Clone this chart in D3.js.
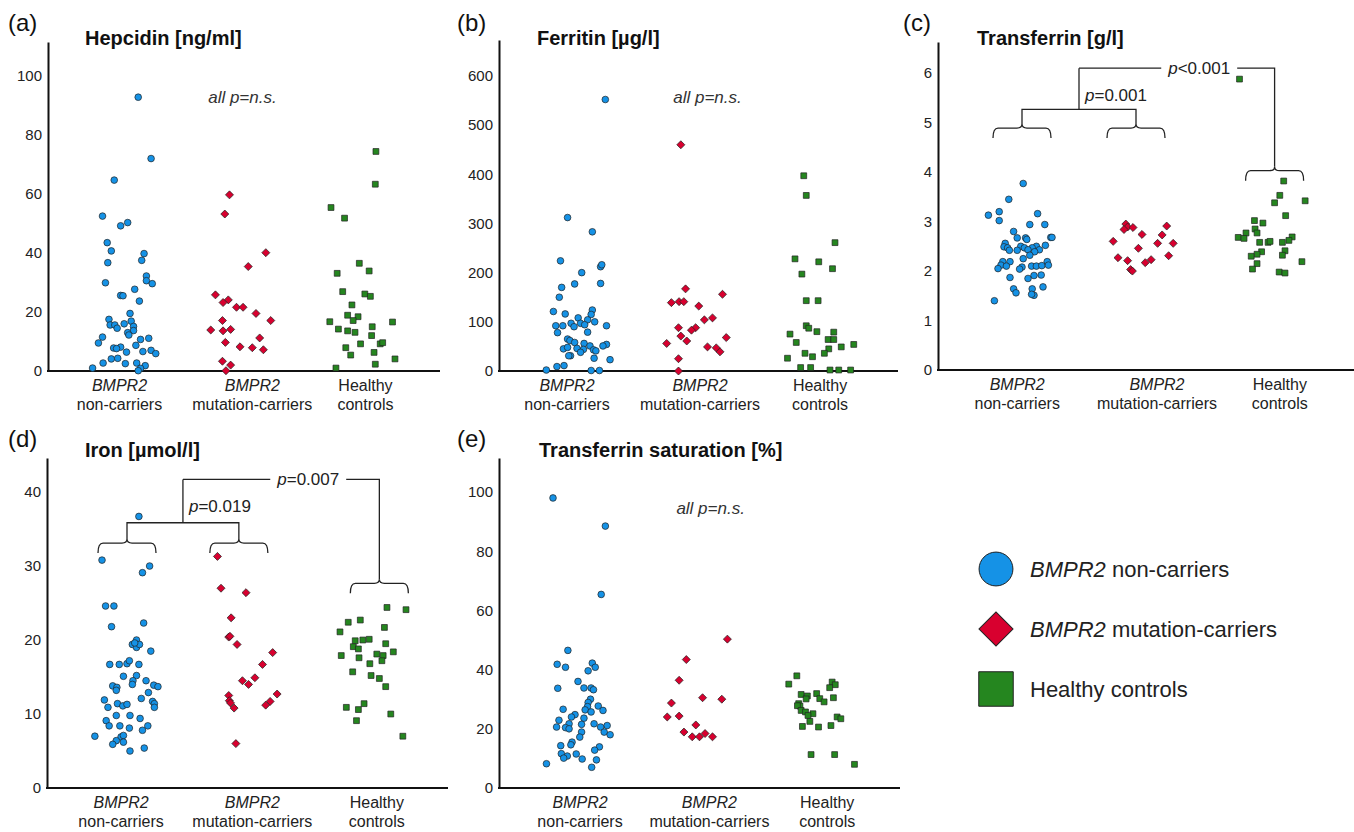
<!DOCTYPE html>
<html>
<head>
<meta charset="utf-8">
<script src="https://cdn.jsdelivr.net/npm/d3@7"></script>
<style>
  body { margin: 0; background: #fff; }
  svg { display: block; font-family: "Liberation Sans", Arial, sans-serif; }
</style>
</head>
<body>
<svg id="chart" width="1354" height="832"></svg>
<script>
// group names, colours and labels
const groupLabels = [['BMPR2', 'non-carriers'], ['BMPR2', 'mutation-carriers'], ['Healthy', 'controls']];
const legendLabels = [['BMPR2', ' non-carriers'], ['BMPR2', ' mutation-carriers'], ['', 'Healthy controls']];
const groupColors = ['#1592e6', '#d8002f', '#25861f'];

// tick labels
const hepcidinTicks = [0, 20, 40, 60, 80, 100];
const ferritinTicks = [0, 100, 200, 300, 400, 500, 600];
const transferrinTicks = [0, 1, 2, 3, 4, 5, 6];
const ironTicks = [0, 10, 20, 30, 40];
const saturationTicks = [0, 20, 40, 60, 80, 100];

// points: [jitter offset (in category units), value]
const hepcidinNC = [[0.13,92.8],[0.24,72.0],[-0.075,64.7],[-0.175,52.5],[0.04,50.3],[-0.02,49.2],[-0.135,43.5],[-0.1,40.7],[0.18,39.8],[0.16,37.5],[-0.13,36.7],[0.2,32.2],[0.2,30.6],[0.25,29.6],[-0.15,29.9],[0.1,27.7],[-0.02,25.6],[0,25.5],[0.14,23.7],[0.06,19.5],[-0.12,17.5],[0.07,16.9],[-0.11,15.6],[-0.07,15.6],[0.01,16.0],[0.09,15.1],[-0.05,14.5],[0.09,13.7],[0.04,13.0],[0.05,12.2],[-0.175,11.5],[0.22,11.1],[0.15,10.7],[-0.21,9.5],[0.11,8.7],[-0.08,7.8],[-0.02,8.1],[-0.055,7.6],[0.24,7.0],[0.03,6.4],[0.17,6.6],[0.28,5.9],[-0.1,4.1],[-0.045,4.3],[-0.17,2.7],[0.02,2.5],[0.117,2.7],[0.19,1.8],[-0.26,1.0],[0.15,0.9],[0.13,0.1]];
const hepcidinMut = [[-0.09,59.7],[-0.13,53.2],[0.21,40.1],[0.067,35.4],[-0.21,25.8],[-0.1,24.1],[-0.145,23.2],[-0.03,21.6],[0.025,21.6],[0.13,19.5],[0.25,17.1],[-0.15,17.1],[-0.25,13.9],[-0.145,13.6],[-0.08,14.1],[0.16,11.2],[-0.125,9.7],[0,8.2],[0.1,7.9],[0.19,7.2],[-0.15,3.3],[-0.08,2.0],[-0.12,0.1]];
const hepcidinHC = [[0.105,74.4],[0.1,63.3],[-0.26,55.4],[-0.15,51.8],[-0.03,36.5],[-0.21,33.1],[0.05,33.9],[-0.165,26.9],[0.015,26.1],[0.06,25.3],[-0.09,22.4],[-0.125,18.9],[-0.04,18.4],[-0.08,17.1],[-0.27,16.7],[0.24,16.6],[-0.2,14.2],[-0.125,13.6],[-0.065,13.1],[0.075,15.0],[0.07,12.0],[-0.02,9.2],[0.14,9.2],[0.16,9.6],[-0.14,7.9],[-0.1,5.4],[0.09,6.3],[0.26,4.1],[0.1,2.3],[-0.22,1.0]];

const ferritinNC = [[0.24,552],[-0.08,312],[0.13,283],[-0.14,224],[0.2,212],[0.21,216],[0.04,200],[-0.02,177],[0.2,178],[-0.13,170],[-0.15,150],[-0.2,121],[0.13,124],[0.12,115],[-0.1,116],[0.01,108],[0.09,104],[-0.05,97],[0.15,100],[0.25,92],[-0.18,92],[-0.12,92],[-0.025,90],[0.03,97],[0.065,94],[-0.165,78],[0.09,79],[-0.08,65],[-0.06,62],[-0.02,58],[0.06,56],[0.25,54],[0.22,51],[0.11,51],[-0.115,45],[-0.08,48],[0,46],[0.055,44],[0.03,38],[0.14,43],[0.16,41],[-0.055,31],[-0.07,31],[0.145,26],[0.28,23],[-0.11,11],[-0.17,9],[-0.26,2],[0.12,1],[0.19,1]];
const ferritinMut = [[-0.12,460],[-0.08,167],[0.22,156],[-0.2,139],[-0.135,141],[-0.095,141],[0.03,132],[0.14,108],[0.075,104],[-0.14,88],[0.005,88],[-0.03,83],[-0.12,71],[0.25,68],[-0.07,61],[-0.24,56],[0.1,49],[0.17,47],[0.2,39],[-0.14,25],[-0.14,0]];
const ferritinHC = [[-0.13,397],[-0.11,357],[0.12,261],[-0.2,228],[-0.01,222],[0.1,208],[-0.145,197],[-0.11,143],[-0.015,143],[-0.11,92],[-0.09,87],[-0.025,80],[0.11,79],[-0.24,75],[0.065,64],[0.11,64],[-0.19,58],[0.27,54],[0.17,49],[0.07,45],[-0.12,36],[0.035,36],[-0.06,29],[-0.26,26],[-0.155,7],[-0.075,7],[0.08,2],[0.15,2],[0.245,2]];

const transferrinNC = [[0.01,3.77],[-0.11,3.45],[-0.28,3.13],[-0.19,3.2],[-0.19,3.02],[0.13,3.16],[0.065,2.94],[0.19,2.94],[-0.07,2.8],[0.24,2.68],[0.25,2.68],[-0.04,2.67],[0.03,2.67],[0.04,2.64],[-0.14,2.56],[0.195,2.52],[-0.15,2.49],[-0.01,2.5],[0.12,2.5],[-0.12,2.47],[0.02,2.47],[0.085,2.47],[-0.105,2.42],[-0.04,2.42],[0.05,2.43],[0.145,2.43],[0.105,2.39],[0.01,2.25],[0.065,2.32],[-0.16,2.19],[-0.1,2.19],[0.21,2.19],[-0.175,2.12],[-0.13,2.1],[0,2.08],[-0.02,2.04],[0.08,2.1],[0.12,2.1],[0.165,2.11],[0.22,2.12],[-0.2,2.05],[0.1,1.91],[0.16,1.92],[-0.1,1.87],[0.05,1.85],[0.175,1.68],[-0.07,1.64],[-0.05,1.56],[0.085,1.64],[0.1,1.51],[0.08,1.53],[-0.23,1.4]];
const transferrinMut = [[-0.135,2.95],[-0.12,2.89],[-0.15,2.84],[-0.075,2.88],[0.19,2.91],[0,2.74],[0.155,2.73],[-0.24,2.6],[0.12,2.56],[0.24,2.56],[-0.03,2.46],[-0.2,2.27],[0.205,2.31],[-0.12,2.21],[0.07,2.23],[0.025,2.17],[-0.095,2.03],[-0.08,2.0]];
const transferrinHC = [[-0.25,5.88],[0.09,3.82],[0.06,3.53],[0.02,3.38],[0.255,3.42],[0.105,3.12],[-0.135,3.02],[-0.07,2.97],[-0.13,2.85],[-0.115,2.77],[-0.2,2.77],[-0.26,2.68],[-0.215,2.66],[0.155,2.69],[0.13,2.62],[-0.095,2.58],[-0.03,2.58],[-0.015,2.6],[0.08,2.58],[-0.08,2.39],[-0.115,2.34],[-0.16,2.3],[0.1,2.41],[0.08,2.32],[-0.115,2.15],[-0.15,2.04],[0.23,2.19],[0.055,1.98],[0.1,1.96]];

const ironNC = [[0.1,36.7],[-0.21,30.8],[0.19,30.0],[0.13,29.1],[-0.18,24.6],[-0.11,24.6],[-0.13,21.8],[0.14,22.3],[0.08,20.0],[0.045,19.4],[0.08,19.0],[0.105,19.4],[0.065,19.6],[0.2,18.5],[-0.145,16.7],[-0.065,16.7],[0,16.8],[0.02,17.2],[0.1,16.7],[-0.03,15.1],[0.08,15.2],[0.05,14.5],[0.045,14.0],[0.16,14.5],[-0.12,13.8],[-0.085,13.6],[-0.09,13.2],[0.225,13.9],[0.26,13.7],[0.18,12.9],[-0.19,11.9],[0.12,12.1],[0.215,11.7],[0.23,11.4],[-0.08,11.4],[-0.035,11.1],[0,11.3],[-0.16,10.9],[0.23,10.9],[-0.09,9.8],[0.025,9.8],[0.11,9.4],[-0.175,9.1],[-0.15,8.4],[-0.06,8.4],[0.175,8.4],[0.02,8.1],[0.13,7.8],[-0.27,7.0],[-0.05,6.9],[-0.03,7.1],[-0.09,6.4],[-0.12,5.9],[-0.03,6.2],[0.145,5.4],[0.025,5.0]];
const ironMut = [[-0.24,31.3],[-0.21,27.0],[0,26.4],[-0.125,23.0],[-0.145,20.4],[-0.135,20.5],[-0.075,19.4],[0.21,18.3],[0.13,16.7],[-0.03,14.5],[0.07,14.9],[0.02,14.0],[0.245,12.7],[-0.145,12.5],[-0.14,11.8],[-0.13,11.5],[0.19,11.7],[0.155,11.2],[-0.1,10.8],[-0.085,6.0]];
const ironHC = [[0.11,24.4],[0.26,24.1],[-0.195,22.4],[-0.1,22.7],[0.09,21.7],[-0.26,21.1],[-0.14,19.9],[-0.08,20.0],[-0.03,20.1],[0.1,19.5],[-0.155,19.1],[-0.115,18.8],[0.16,18.4],[-0.25,17.9],[0.03,18.1],[0.08,17.9],[0.07,17.2],[-0.11,17.6],[-0.025,16.8],[-0.16,15.7],[-0.015,15.2],[0.05,14.8],[0.1,13.7],[-0.21,10.9],[-0.07,11.4],[-0.115,10.6],[0.14,10.0],[-0.13,9.1],[0.235,7.0]];

const saturationNC = [[-0.21,98.0],[0.23,88.5],[0.195,65.4],[-0.085,46.5],[-0.175,41.8],[-0.105,40.8],[0.12,42.2],[0.145,40.8],[0.085,39.6],[0,36.0],[-0.17,33.7],[0.05,33.8],[0.11,33.8],[0.13,33.2],[0.105,30.0],[0.085,28.9],[0.17,27.7],[0.08,27.5],[-0.125,26.6],[0.06,26.4],[0.11,25.7],[0.21,26.2],[-0.025,24.8],[-0.055,24.0],[0.05,23.6],[-0.16,22.9],[0.135,21.7],[-0.075,21.7],[0.03,21.5],[-0.18,20.6],[-0.105,20.4],[0.245,21.1],[0.19,20.6],[-0.075,20.0],[0.03,18.9],[0.22,18.9],[0.27,18.0],[0.015,17.2],[-0.05,15.5],[-0.06,14.6],[-0.145,14.3],[0.18,13.9],[0.14,12.8],[-0.14,11.6],[-0.015,11.5],[-0.09,10.8],[-0.12,10.1],[0.035,9.8],[0.155,9.5],[-0.265,8.2],[0.115,7.0]];
const saturationMut = [[0.245,50.3],[-0.09,43.4],[-0.15,36.4],[-0.215,28.7],[0.045,30.5],[0.2,30.0],[-0.25,24.0],[-0.15,24.3],[-0.01,21.3],[-0.11,18.9],[-0.04,17.3],[0.02,17.3],[0.065,18.4],[0.125,17.3]];
const saturationHC = [[-0.195,37.9],[-0.26,35.1],[0.09,35.8],[0.115,34.9],[0.07,33.9],[-0.16,31.6],[-0.11,31.1],[-0.035,31.9],[0.1,30.5],[-0.12,30.1],[-0.01,30.2],[0.025,29.1],[-0.18,28.5],[-0.17,27.7],[-0.19,27.8],[-0.16,26.2],[-0.125,25.7],[-0.065,25.1],[-0.105,24.5],[0.13,24.0],[0.16,23.4],[-0.09,22.5],[-0.15,20.8],[-0.02,20.6],[0.08,21.1],[-0.08,11.3],[0.11,11.3],[0.27,8.0]];

// panel layout
const panels = [
  { letter: '(a)', title: 'Hepcidin [ng/ml]', series: [hepcidinNC, hepcidinMut, hepcidinHC], ticks: hepcidinTicks,
    yMax: 111.5, left: 48, right: 440, top: 42, bottom: 371, centers: [123, 240, 363], labelPos: [-0.03, 1.1, 2.02],
    letterX: 8, letterY: 31, titleX: 85, titleY: 45, note: { pos: 1.02, value: 92.9 } },
  { letter: '(b)', title: 'Ferritin [\u00b5g/l]', series: [ferritinNC, ferritinMut, ferritinHC], ticks: ferritinTicks,
    yMax: 673, left: 499, right: 898, top: 40, bottom: 371, centers: [577, 695, 820], labelPos: [-0.085, 1.04, 2.0],
    letterX: 457, letterY: 31, titleX: 537, titleY: 45, note: { pos: 1.1, value: 557 } },
  { letter: '(c)', title: 'Transferrin [g/l]', series: [transferrinNC, transferrinMut, transferrinHC], ticks: transferrinTicks,
    yMax: 6.63, left: 938, right: 1354, top: 42, bottom: 370, centers: [1022, 1142, 1272], labelPos: [-0.04, 1.115, 2.06],
    letterX: 903, letterY: 31, titleX: 977, titleY: 45,
    bracket: { braces: [0, 0.95, 2.02], low: 4.89, hc: 4.03, connector: 5.27, top: 6.1,
               inner: { text: '=0.001', value: 5.43 }, outer: { text: '<0.001', pos: 1.44 } } },
  { letter: '(d)', title: 'Iron [\u00b5mol/l]', series: [ironNC, ironMut, ironHC], ticks: ironTicks,
    yMax: 44.6, left: 47, right: 448, top: 458, bottom: 788, centers: [127, 246, 373], labelPos: [-0.05, 1.05, 2.03],
    letterX: 8, letterY: 447, titleX: 85, titleY: 457,
    bracket: { braces: [0, 0.94, 2.05], low: 33.1, hc: 27.66, connector: 35.85, top: 41.7,
               inner: { text: '=0.019', value: 37.25 }, outer: { text: '=0.007', pos: 1.49 } } },
  { letter: '(e)', title: 'Transferrin saturation [%]', series: [saturationNC, saturationMut, saturationHC], ticks: saturationTicks,
    yMax: 111.5, left: 499, right: 900, top: 458, bottom: 788, centers: [578, 697, 821], labelPos: [0.017, 1.1, 2.05],
    letterX: 457, letterY: 447, titleX: 539, titleY: 457, note: { pos: 1.11, value: 94.6 } }
];

const shapes = [d3.symbolCircle, d3.symbolSquare, d3.symbolSquare];
const markSizes = [35, 32, 34];
const textColor = '#222';
const braceHalf = 29, hook = 10, peak = 4;

const svg = d3.select('#chart');

function pText(sel, rest) {
  sel.append('tspan').attr('font-style', 'italic').text('p');
  sel.append('tspan').text(rest);
}

function bracePath(cx, yl) {
  return `M${cx - braceHalf},${yl + hook} Q${cx - braceHalf},${yl} ${cx - braceHalf + 5},${yl}` +
    ` L${cx - 5},${yl} Q${cx},${yl} ${cx},${yl - peak} Q${cx},${yl} ${cx + 5},${yl}` +
    ` L${cx + braceHalf - 5},${yl} Q${cx + braceHalf},${yl} ${cx + braceHalf},${yl + hook}`;
}

panels.forEach(p => {
  const g = svg.append('g');
  const y = d3.scaleLinear().domain([0, p.yMax]).range([p.bottom, p.top]);
  const x = d3.scaleLinear().domain([0, 1, 2]).range(p.centers);

  // y axis
  const yAxis = g.append('g')
    .attr('transform', `translate(${p.left},0)`)
    .call(d3.axisLeft(y).tickValues(p.ticks).tickFormat(d3.format('d'))
      .tickSize(0).tickSizeOuter(0).tickPadding(6));
  yAxis.attr('font-family', null).attr('font-size', null);
  yAxis.select('.domain').attr('stroke', '#111').attr('stroke-width', 2);
  yAxis.selectAll('text').attr('font-size', 15).attr('fill', textColor);

  // x axis line
  g.append('line')
    .attr('x1', p.left - 1).attr('x2', p.right)
    .attr('y1', y(0)).attr('y2', y(0))
    .attr('stroke', '#111').attr('stroke-width', 2);

  // category labels
  groupLabels.forEach((lines, i) => {
    const cx = x(p.labelPos[i]);
    const t = g.append('text').attr('text-anchor', 'middle').attr('font-size', 16).attr('fill', textColor);
    t.append('tspan').attr('x', cx).attr('y', y(0) + 20)
      .attr('font-style', i < 2 ? 'italic' : 'normal').text(lines[0]);
    t.append('tspan').attr('x', cx).attr('y', y(0) + 39).text(lines[1]);
  });

  // panel letter and title
  g.append('text').attr('x', p.letterX).attr('y', p.letterY)
    .attr('font-size', 24).attr('fill', '#111').text(p.letter);
  g.append('text').attr('x', p.titleX).attr('y', p.titleY)
    .attr('font-size', 20).attr('font-weight', 'bold').attr('fill', '#111').text(p.title);

  // points
  p.series.forEach((series, i) => {
    g.append('g').selectAll('path')
      .data(series)
      .join('path')
      .attr('d', d3.symbol(shapes[i], markSizes[i]))
      .attr('transform', d => `translate(${x(i + d[0])},${y(d[1])})` + (i === 1 ? ' rotate(45)' : ''))
      .attr('fill', groupColors[i])
      .attr('stroke', '#222')
      .attr('stroke-width', 0.7);
  });

  // "all p=n.s."
  if (p.note) {
    g.append('text').attr('x', x(p.note.pos)).attr('y', y(p.note.value))
      .attr('text-anchor', 'middle').attr('dy', '0.35em')
      .attr('font-size', 17).attr('font-style', 'italic').attr('fill', '#333')
      .text('all p=n.s.');
  }

  // significance brackets
  if (p.bracket) {
    const b = p.bracket;
    const bx = b.braces.map(v => x(v));
    const addPath = d => g.append('path').attr('d', d)
      .attr('stroke', '#222').attr('stroke-width', 1.3).attr('fill', 'none');
    const yLow = y(b.low), yHc = y(b.hc), yCon = y(b.connector), yTop = y(b.top);
    addPath(bracePath(bx[0], yLow));
    addPath(bracePath(bx[1], yLow));
    addPath(bracePath(bx[2], yHc));
    const mid = (bx[0] + bx[1]) / 2;
    addPath(`M${bx[0]},${yLow - peak} V${yCon} H${bx[1]} V${yLow - peak}`);
    addPath(`M${mid},${yCon} V${yTop}`);

    // inner p value
    const inner = g.append('text').attr('x', mid + 6).attr('y', y(b.inner.value))
      .attr('font-size', 17).attr('fill', textColor);
    pText(inner, b.inner.text);

    // outer p value, with a gap in the line
    const tx = x(b.outer.pos);
    const outer = g.append('text').attr('x', tx).attr('y', yTop)
      .attr('dy', '0.35em').attr('text-anchor', 'middle')
      .attr('font-size', 17).attr('fill', textColor);
    pText(outer, b.outer.text);
    const w = outer.node().getComputedTextLength();
    addPath(`M${mid},${yTop} H${tx - w / 2 - 7}`);
    addPath(`M${tx + w / 2 + 7},${yTop} H${bx[2]} V${yHc - peak}`);
  }
});

// legend
const legend = svg.append('g').attr('transform', 'translate(996,569)');
const legendSizes = [900, 580, 1190];
legendLabels.forEach((lab, i) => {
  const row = legend.append('g').attr('transform', `translate(0,${i * 60})`);
  row.append('path')
    .attr('d', d3.symbol(shapes[i], legendSizes[i]))
    .attr('transform', i === 1 ? 'rotate(45)' : null)
    .attr('fill', groupColors[i]).attr('stroke', '#222').attr('stroke-width', 1);
  const t = row.append('text').attr('x', 34).attr('y', 8).attr('font-size', 22).attr('fill', textColor);
  if (lab[0]) t.append('tspan').attr('font-style', 'italic').text(lab[0]);
  t.append('tspan').text(lab[1]);
});
</script>
</body>
</html>
